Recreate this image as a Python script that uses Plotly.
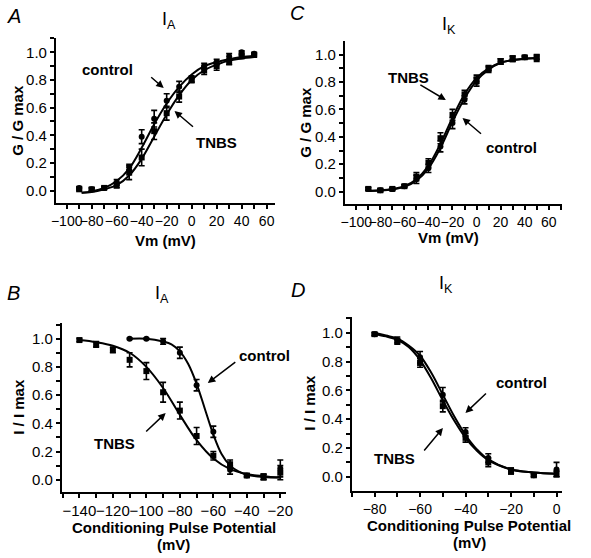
import plotly.graph_objects as go

W, H = 591, 558

# ---------------- Data ----------------
# Panel A: I_A activation
A_v = [-90, -80, -70, -60, -50, -40, -30, -20, -10, 0, 10, 20, 30, 40, 50]
A_ctrl = [0.02, 0.01, 0.02, 0.06, 0.17, 0.39, 0.52, 0.65, 0.75, 0.81, 0.90, 0.93, 0.97, 1.00, 0.99]
A_ctrl_err = [0.01, 0.01, 0.01, 0.02, 0.02, 0.05, 0.06, 0.05, 0.04, 0.02, 0.02, 0.02, 0.02, 0.01, 0.01]
A_tnbs = [0.01, 0.01, 0.02, 0.04, 0.13, 0.24, 0.43, 0.56, 0.68, 0.80, 0.87, 0.90, 0.93, 0.97, 0.98]
A_tnbs_err = [0.01, 0.01, 0.01, 0.02, 0.05, 0.06, 0.06, 0.05, 0.04, 0.02, 0.03, 0.03, 0.02, 0.01, 0.01]
A_fit_v = [-88, -80, -70, -60, -50, -40, -30, -20, -10, 0, 10, 20, 30, 40, 50]
A_ctrl_fit = [-0.015, -0.005, 0.02, 0.07, 0.16, 0.31, 0.48, 0.63, 0.75, 0.84, 0.90, 0.93, 0.95, 0.965, 0.975]
A_tnbs_fit = [-0.015, -0.01, 0.01, 0.04, 0.11, 0.23, 0.39, 0.55, 0.69, 0.80, 0.87, 0.91, 0.94, 0.955, 0.965]

# Panel C: I_K activation
C_v = [-90, -80, -70, -60, -50, -40, -30, -20, -10, 0, 10, 20, 30, 40, 50]
C_ctrl = [0.02, 0.01, 0.02, 0.04, 0.09, 0.17, 0.33, 0.50, 0.67, 0.80, 0.89, 0.95, 0.97, 0.98, 0.97]
C_ctrl_err = [0.01, 0.01, 0.01, 0.01, 0.03, 0.03, 0.04, 0.04, 0.03, 0.03, 0.02, 0.02, 0.02, 0.01, 0.02]
C_tnbs = [0.02, 0.01, 0.02, 0.04, 0.11, 0.21, 0.39, 0.56, 0.71, 0.82, 0.90, 0.95, 0.97, 0.98, 0.98]
C_tnbs_err = [0.01, 0.01, 0.01, 0.01, 0.03, 0.03, 0.04, 0.04, 0.03, 0.03, 0.02, 0.02, 0.02, 0.01, 0.02]
C_fit_v = [-90, -80, -70, -60, -50, -40, -30, -20, -10, 0, 10, 20, 30, 40, 50]
C_tnbs_fit = [0.005, 0.01, 0.02, 0.04, 0.09, 0.19, 0.35, 0.54, 0.71, 0.83, 0.90, 0.94, 0.96, 0.97, 0.975]
C_ctrl_fit = [0.005, 0.008, 0.016, 0.035, 0.08, 0.17, 0.32, 0.51, 0.68, 0.81, 0.89, 0.94, 0.96, 0.97, 0.975]

# Panel B: I_A inactivation
B_ctrl_v = [-110, -100, -90, -80, -70, -60, -50, -40, -30, -20]
B_ctrl = [1.00, 1.00, 0.98, 0.90, 0.67, 0.34, 0.07, 0.03, 0.02, 0.08]
B_ctrl_err = [0.005, 0.005, 0.02, 0.04, 0.04, 0.04, 0.03, 0.01, 0.02, 0.06]
B_tnbs_v = [-140, -130, -120, -110, -100, -90, -80, -70, -60, -50, -40, -30, -20]
B_tnbs = [0.99, 0.96, 0.92, 0.85, 0.77, 0.62, 0.49, 0.31, 0.17, 0.11, 0.03, 0.02, 0.05]
B_tnbs_err = [0.01, 0.02, 0.02, 0.05, 0.06, 0.07, 0.06, 0.06, 0.03, 0.03, 0.01, 0.02, 0.05]
B_ctrl_fit_v = [-110, -100, -90, -85, -80, -75, -70, -65, -60, -55, -50, -45, -40, -30, -20]
B_ctrl_fit = [1.0, 1.0, 0.98, 0.96, 0.91, 0.82, 0.68, 0.50, 0.32, 0.18, 0.10, 0.06, 0.035, 0.02, 0.015]
B_tnbs_fit_v = [-140, -130, -120, -110, -100, -90, -80, -70, -60, -50, -40, -30, -20]
B_tnbs_fit = [0.99, 0.975, 0.95, 0.90, 0.80, 0.65, 0.46, 0.28, 0.15, 0.075, 0.04, 0.025, 0.015]

# Panel D: I_K inactivation
D_v = [-80, -70, -60, -50, -40, -30, -20, -10, 0]
D_ctrl = [0.99, 0.95, 0.83, 0.57, 0.31, 0.13, 0.04, 0.01, 0.05]
D_ctrl_err = [0.01, 0.02, 0.04, 0.05, 0.03, 0.03, 0.02, 0.01, 0.05]
D_tnbs = [0.99, 0.94, 0.79, 0.49, 0.27, 0.10, 0.04, 0.01, 0.02]
D_tnbs_err = [0.01, 0.02, 0.03, 0.04, 0.03, 0.03, 0.02, 0.01, 0.02]
D_fit_v = [-80, -75, -70, -65, -60, -55, -50, -45, -40, -35, -30, -20, -10, 0]
D_ctrl_fit = [1.0, 0.98, 0.96, 0.91, 0.84, 0.72, 0.57, 0.42, 0.29, 0.19, 0.12, 0.05, 0.03, 0.02]
D_tnbs_fit = [0.99, 0.975, 0.95, 0.90, 0.81, 0.68, 0.53, 0.39, 0.27, 0.18, 0.115, 0.05, 0.03, 0.02]

FONT = "Arial, Liberation Sans, sans-serif"


def px(x):
    return x / W


def py(y):
    return 1 - y / H


fig = go.Figure()


def add_panel(n, xs, ys, errs, symbol):
    xa = "x" if n == 1 else f"x{n}"
    ya = "y" if n == 1 else f"y{n}"
    fig.add_trace(go.Scatter(
        x=xs, y=ys, mode="markers", xaxis=xa, yaxis=ya,
        marker=dict(symbol=symbol, size=6, color="black"),
        error_y=dict(type="data", array=errs, color="black", thickness=1.6, width=3),
        showlegend=False, cliponaxis=False))


def add_fit(n, xs, ys):
    xa = "x" if n == 1 else f"x{n}"
    ya = "y" if n == 1 else f"y{n}"
    fig.add_trace(go.Scatter(
        x=xs, y=ys, mode="lines", xaxis=xa, yaxis=ya, line_shape="spline",
        line=dict(color="black", width=2), showlegend=False))


# 1 = A, 2 = C, 3 = B, 4 = D
add_fit(1, A_fit_v, A_ctrl_fit)
add_fit(1, A_fit_v, A_tnbs_fit)
add_panel(1, A_v, A_ctrl, A_ctrl_err, "circle")
add_panel(1, A_v, A_tnbs, A_tnbs_err, "square")

add_fit(2, C_fit_v, C_ctrl_fit)
add_fit(2, C_fit_v, C_tnbs_fit)
add_panel(2, C_v, C_ctrl, C_ctrl_err, "circle")
add_panel(2, C_v, C_tnbs, C_tnbs_err, "square")

add_fit(3, B_ctrl_fit_v, B_ctrl_fit)
add_fit(3, B_tnbs_fit_v, B_tnbs_fit)
add_panel(3, B_ctrl_v, B_ctrl, B_ctrl_err, "circle")
add_panel(3, B_tnbs_v, B_tnbs, B_tnbs_err, "square")

add_fit(4, D_fit_v, D_ctrl_fit)
add_fit(4, D_fit_v, D_tnbs_fit)
add_panel(4, D_v, D_ctrl, D_ctrl_err, "circle")
add_panel(4, D_v, D_tnbs, D_tnbs_err, "square")


def axis(domain, rng, dtick, minor_dtick, anchor, size=15):
    return dict(
        domain=domain, range=rng, dtick=dtick, tick0=0, anchor=anchor,
        showline=True, linewidth=2, linecolor="black", showgrid=False, zeroline=False,
        ticks="outside", ticklen=4, tickwidth=2, tickcolor="black", tickangle=0,
        minor=dict(dtick=minor_dtick, ticks="outside", ticklen=4, tickwidth=2, tickcolor="black", showgrid=False),
        tickfont=dict(family=FONT, size=size, color="black"), fixedrange=True)


fig.update_layout(
    width=W, height=H, margin=dict(l=0, r=0, t=0, b=0),
    paper_bgcolor="white", plot_bgcolor="white",
    xaxis=axis([px(52), px(276)], [-108.6, 67], 20, 10, "y", 14),
    yaxis=axis([py(203), py(38)], [-0.089, 1.103], 0.2, 0.1, "x"),
    xaxis2=axis([px(347), px(569)], [-109.4, 71.4], 20, 10, "y2", 14),
    yaxis2=axis([py(204), py(41)], [-0.09, 1.099], 0.2, 0.1, "x2"),
    xaxis3=axis([px(58), px(287)], [-150.5, -16.5], 20, 10, "y3"),
    yaxis3=axis([py(492), py(323)], [-0.087, 1.111], 0.2, 0.1, "x3"),
    xaxis4=axis([px(354), px(569)], [-90, 2.6], 20, 10, "y4", 14),
    yaxis4=axis([py(491), py(317)], [-0.099, 1.109], 0.2, 0.1, "x4"),
)
for k in ["yaxis", "yaxis2", "yaxis3", "yaxis4"]:
    fig.layout[k].tickformat = ".1f"

annots = []


def text(x, y, s, size=15, bold=False, italic=False, angle=0):
    if bold:
        s = f"<b>{s}</b>"
    if italic:
        s = f"<i>{s}</i>"
    annots.append(dict(x=px(x), y=py(y), xref="paper", yref="paper", text=s, showarrow=False,
                       xanchor="center", yanchor="middle", textangle=angle,
                       font=dict(family=FONT, size=size, color="black")))


def arrow(tail, tip):
    annots.append(dict(x=px(tip[0]), y=py(tip[1]), xref="paper", yref="paper",
                       ax=tail[0] - tip[0], ay=tail[1] - tip[1], text="", showarrow=True,
                       arrowhead=2, arrowsize=1, arrowwidth=1.5, arrowcolor="black"))


# panel letters
text(9, 16, "A", size=20, italic=True)
text(299, 13, "C", size=20, italic=True)
text(9, 293, "B", size=20, italic=True)
text(299, 290, "D", size=20, italic=True)

# panel titles
text(167, 21, "I<sub>A</sub>", size=18)
text(453, 26, "I<sub>K</sub>", size=18)
text(160, 294, "I<sub>A</sub>", size=18)
text(450, 284, "I<sub>K</sub>", size=18)

# axis titles
text(12, 120, "G / G max", bold=True, angle=-90)
text(307, 122, "G / G max", bold=True, angle=-90)
text(13, 407, "I / I max", bold=True, angle=-90)
text(310, 403, "I / I max", bold=True, angle=-90)
text(164, 240, "Vm (mV)", bold=True)
text(453, 238, "Vm (mV)", bold=True)
text(172, 527, "Conditioning Pulse Potential", bold=True)
text(172, 544, "(mV)", bold=True)
text(474, 525, "Conditioning Pulse Potential", bold=True)
text(474, 542, "(mV)", bold=True)

# curve labels and arrows
text(105, 69, "control", bold=True)
arrow((148, 76), (162, 88))
text(216, 142, "TNBS", bold=True)
arrow((193, 128), (173, 111))

text(412, 78, "TNBS", bold=True)
arrow((423, 84), (450, 100))
text(517, 147, "control", bold=True)
arrow((487, 135), (467, 118))

text(265, 355, "control", bold=True)
arrow((236, 361), (207, 383))
text(112, 443, "TNBS", bold=True)
arrow((143, 433), (164, 413))

text(527, 382, "control", bold=True)
arrow((492, 392), (470, 413))
text(398, 458, "TNBS", bold=True)
arrow((427, 452), (447, 428))

fig.update_layout(annotations=annots)
fig.write_html("out.html", config={"displayModeBar": False},
               post_script="document.body.style.margin='0';document.body.style.padding='0';document.body.style.overflow='hidden';")
